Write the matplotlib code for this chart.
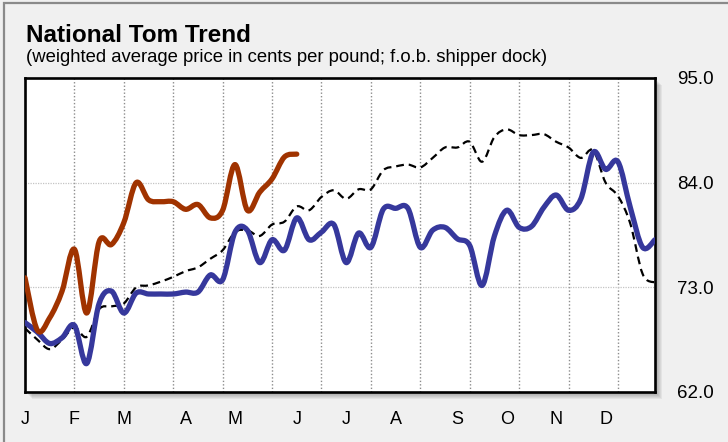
import matplotlib.pyplot as plt
import numpy as np
from matplotlib.path import Path
from matplotlib.patches import PathPatch, Rectangle

# weekly prices (cents per pound)
weeks = np.arange(1, 53)
this_year = [74.0, 68.5, 69.8, 72.6, 77.0, 70.3, 77.8, 77.5, 79.8, 84.0,
             82.2, 82.0, 82.0, 81.2, 81.7, 80.3, 81.1, 85.9, 81.1, 83.0,
             84.4, 86.7, 87.0]
last_year = [69.3, 68.3, 67.1, 67.7, 69.0, 65.0, 71.3, 72.6, 70.3, 72.4,
             72.3, 72.3, 72.3, 72.5, 72.5, 74.3, 73.8, 78.8, 79.0, 75.6,
             78.0, 76.9, 80.3, 78.0, 78.8, 79.6, 75.6, 78.7, 77.2, 81.2,
             81.3, 81.3, 77.2, 79.0, 79.3, 78.1, 77.4, 73.2, 78.4, 81.1,
             79.3, 79.4, 81.4, 82.7, 81.1, 82.3, 87.2, 85.4, 86.2, 81.4,
             77.2, 78.0]
average = [68.7, 67.5, 66.5, 67.5, 68.8, 67.8, 70.7, 71.0, 71.3, 73.0,
           73.2, 73.6, 74.1, 74.7, 75.1, 76.0, 76.9, 78.8, 79.0, 78.4,
           79.6, 79.9, 81.5, 81.1, 82.5, 83.2, 82.3, 83.3, 83.3, 85.3,
           85.7, 85.9, 85.6, 86.6, 87.7, 87.7, 88.3, 86.2, 88.8, 89.6,
           89.0, 89.0, 89.1, 88.3, 87.7, 86.6, 87.4, 84.0, 82.6, 79.7,
           74.4, 73.5]

month_labels = ['J', 'F', 'M', 'A', 'M', 'J', 'J', 'A', 'S', 'O', 'N', 'D']
month_weeks = [1, 5, 9, 14, 18, 23, 27, 31, 36, 40, 44, 48]
grid_weeks = np.arange(5, 50, 4)
y_ticks = [62.0, 73.0, 84.0, 95.0]


def smooth_path(x, y):
    # catmull-rom through the points, drawn as bezier segments
    pts = np.column_stack([x, y]).astype(float)
    p = np.vstack([pts[0], pts, pts[-1]])
    verts = [pts[0]]
    codes = [Path.MOVETO]
    for i in range(1, len(p) - 2):
        c1 = p[i] + (p[i + 1] - p[i - 1]) / 6
        c2 = p[i + 1] - (p[i + 2] - p[i]) / 6
        verts += [c1, c2, p[i + 1]]
        codes += [Path.CURVE4] * 3
    return Path(verts, codes)


W, H = 728, 442
fig = plt.figure(figsize=(W / 100, H / 100), dpi=100)
fig.patch.set_facecolor('#f0f0f0')
plt.rcParams['font.family'] = ['Liberation Sans', 'DejaVu Sans']

# outer border
fig.patches.append(Rectangle((4 / W, -0.1), 1.2, (H - 3) / H + 0.1, transform=fig.transFigure,
                             fill=False, edgecolor='#8a8a8a', lw=1.6, zorder=-2))

left, right, bottom, top = 25, 655, 392, 78
ax = fig.add_axes([left / W, (H - bottom) / H, (right - left) / W, (bottom - top) / H])
ax.set_facecolor('white')

# drop shadow
for k in range(1, 8):
    fig.patches.append(Rectangle(((left + k) / W, (H - bottom - k) / H), (right - left) / W,
                                 (bottom - top) / H, transform=fig.transFigure,
                                 facecolor='black', edgecolor='none', alpha=0.05, zorder=-1))

ax.set_xlim(1, 52)
ax.set_ylim(62, 95)

for g in grid_weeks:
    ax.axvline(g, color='#8c8c8c', ls=(0, (1, 1.5)), lw=1.0, zorder=1)
for yv in [73, 84]:
    ax.axhline(yv, color='#c4c4c4', ls=(0, (1, 1)), lw=0.9, zorder=1)

ax.add_patch(PathPatch(smooth_path(weeks, average), fill=False, edgecolor='black',
                       lw=1.6, ls=(0, (3.5, 2.2)), zorder=3))
ax.add_patch(PathPatch(smooth_path(weeks, last_year), fill=False, edgecolor='#36389c',
                       lw=3.8, capstyle='round', joinstyle='round', zorder=4))
ax.add_patch(PathPatch(smooth_path(weeks[:len(this_year)], this_year), fill=False,
                       edgecolor='#a03300', lw=3.8, capstyle='round', joinstyle='round', zorder=5))

for s in ax.spines.values():
    s.set_color('black')
    s.set_linewidth(1.9)

ax.yaxis.tick_right()
ax.set_yticks(y_ticks)
ax.set_yticklabels(['%.1f' % v for v in y_ticks], fontsize=13.5)
ax.set_xticks(month_weeks)
ax.set_xticklabels(month_labels, fontsize=13)
ax.tick_params(axis='y', length=0, pad=16)
ax.tick_params(axis='x', length=0, pad=14)

fig.text(26 / W, 1 - 42 / H, 'National Tom Trend', fontsize=17.5, fontweight='bold',
         ha='left', va='baseline')
fig.text(26 / W, 1 - 62 / H, '(weighted average price in cents per pound; f.o.b. shipper dock)',
         fontsize=13.3, ha='left', va='baseline')

fig.savefig('out.png', dpi=100, facecolor=fig.get_facecolor())
